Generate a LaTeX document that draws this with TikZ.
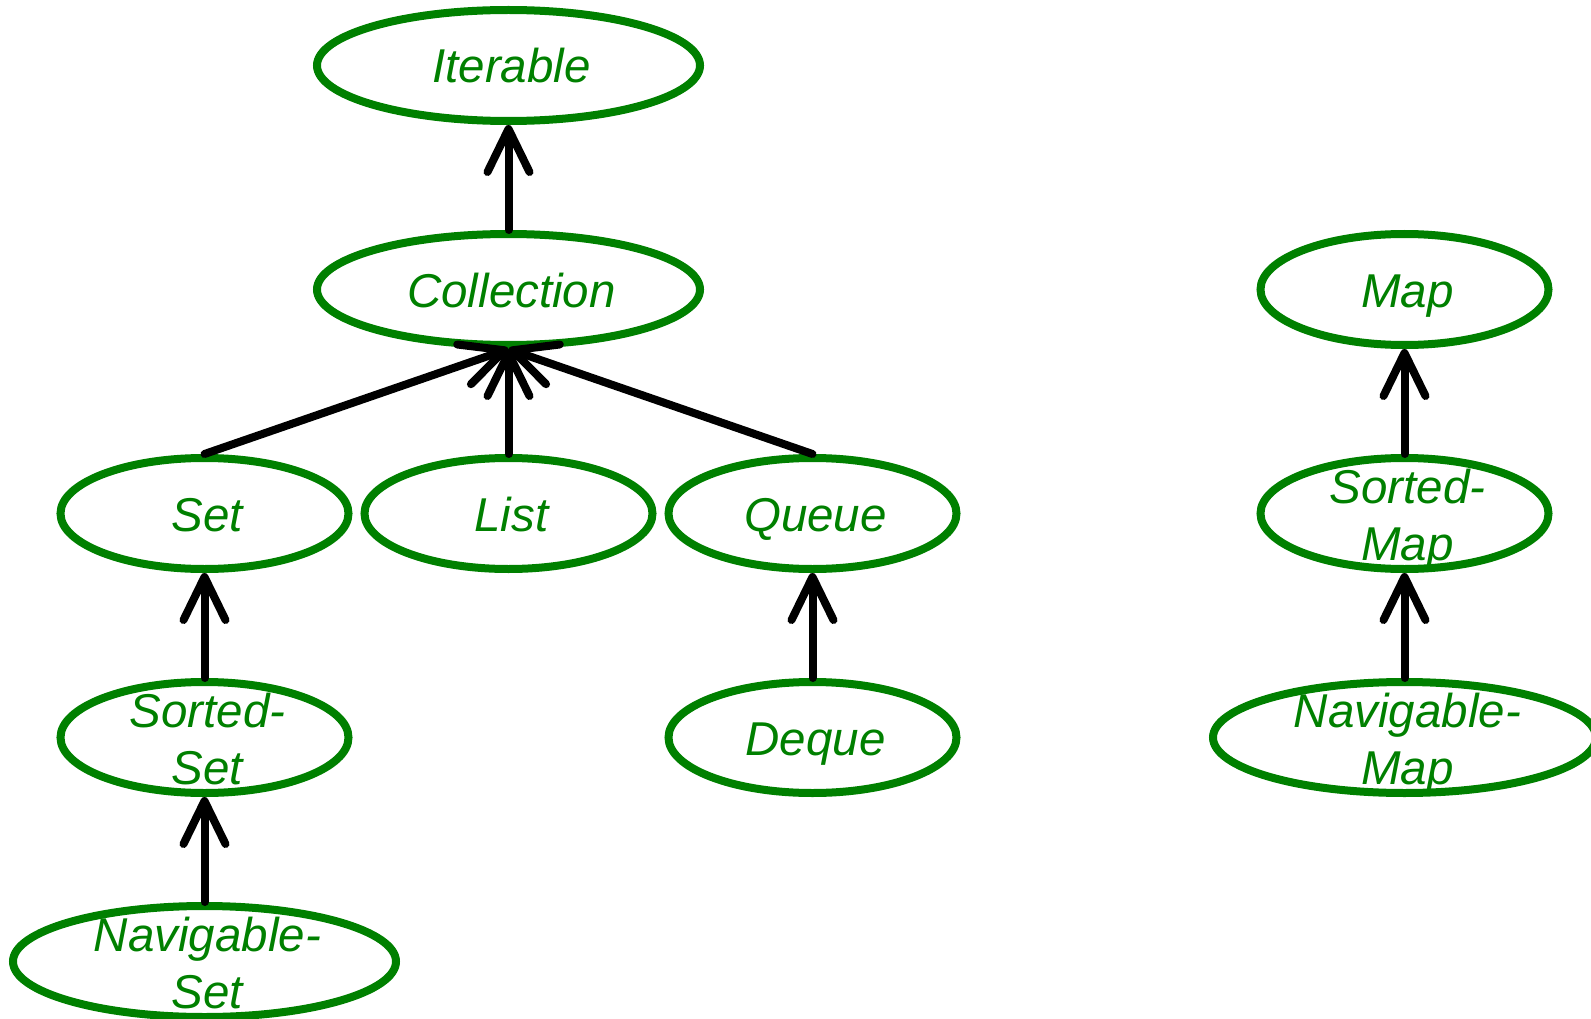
\documentclass[tikz,border=0pt]{standalone}
\usepackage{fontspec}
\setmainfont{Liberation Sans}
\usetikzlibrary{shapes.geometric,arrows.meta}
\definecolor{umlgreen}{RGB}{0,128,0}
\begin{document}
\begin{tikzpicture}[x=1pt,y=-1pt,
  cls/.style={ellipse, draw=umlgreen, line width=8pt, inner sep=0pt,
    minimum width=288pt, minimum height=111pt},
  wide/.style={minimum width=383pt},
  lblone/.style={text=umlgreen, font=\fontsize{47.5pt}{57pt}\selectfont\itshape,
    inner sep=0pt, text height=35pt, text depth=0pt, xshift=3pt},
  lbltwo/.style={text=umlgreen, font=\fontsize{47.5pt}{57pt}\selectfont\itshape,
    inner sep=0pt, align=center, yshift=-6pt, xshift=3pt},
  inh/.style={draw=black, line width=8pt, line cap=round,
    -{Straight Barb[length=43pt,width=42pt,line cap=round,line join=round]}},
]
\useasboundingbox (0,0) rectangle (1591,1019);

\node[cls,wide, label={[lblone]center:Iterable}] (iter) at (508.5,65.5) {};
\node[cls,wide, label={[lblone]center:Collection}] (coll) at (508.5,289.5) {};
\node[cls, label={[lblone]center:Set}] (set) at (204.5,513.5) {};
\node[cls, label={[lblone]center:List}] (list) at (508.5,513.5) {};
\node[cls, label={[lblone]center:Queue}] (queue) at (812.5,513.5) {};
\node[cls, label={[lbltwo]center:{Sorted-\\Set\vphantom{p}}}] (sset) at (204.5,737.5) {};
\node[cls, label={[lblone]center:Deque}] (deque) at (812.5,737.5) {};
\node[cls,wide, label={[lbltwo]center:{Navigable-\\Set\vphantom{p}}}] (nset) at (204.5,961.5) {};
\node[cls, label={[lblone]center:Map}] (map) at (1404.5,289.5) {};
\node[cls, label={[lbltwo]center:{Sorted-\\Map}}] (smap) at (1404.5,513.5) {};
\node[cls,wide, label={[lbltwo]center:{Navigable-\\Map}}] (nmap) at (1404.5,737.5) {};

\draw[inh] (coll.north) -- (iter.south);
\draw[inh] (set.north) -- (coll.south);
\draw[inh] (list.north) -- (coll.south);
\draw[inh] (queue.north) -- (coll.south);
\draw[inh] (sset.north) -- (set.south);
\draw[inh] (nset.north) -- (sset.south);
\draw[inh] (deque.north) -- (queue.south);
\draw[inh] (smap.north) -- (map.south);
\draw[inh] (nmap.north) -- (smap.south);
\end{tikzpicture}
\end{document}
